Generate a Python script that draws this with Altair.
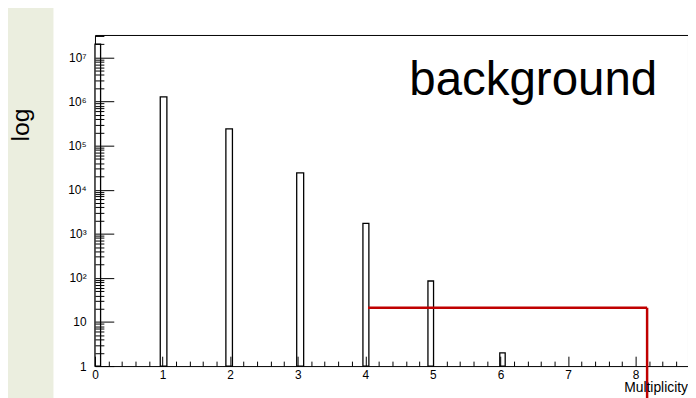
import altair as alt
import pandas as pd

# ---- data ----
bin_left = [0.0, 0.966, 1.937, 2.985, 3.965, 4.927, 5.99]
bin_right = [0.083, 1.064, 2.034, 3.088, 4.053, 5.01, 6.07]
counts = [2.0e7, 1.27e6, 2.4e5, 2.4e4, 1.73e3, 85, 2.0]

x_major = [0, 1, 2, 3, 4, 5, 6, 7, 8]
x_labels = ["0", "1", "2", "3", "4", "5", "6", "7", "8"]
y_major = [1, 10, 100, 1000, 10000, 100000, 1000000, 10000000]
y_labels = ["1", "10", "10²", "10³", "10⁴", "10⁵", "10⁶", "10⁷"]

cut_x = [4.04, 8.17]
cut_y = [21]

W, H = 600, 335
X_MAX = W / 68.375
Y_MAX = 3.23e7

x_minor = [round(i * 0.2, 1) for i in range(0, int(X_MAX / 0.2) + 1)]
y_minor = [k * 10 ** d for d in range(0, 8) for k in range(1, 10) if k * 10 ** d <= Y_MAX]

bars = pd.DataFrame({"left": bin_left, "right": bin_right, "count": counts})
cut = pd.DataFrame({"x1": [cut_x[0]], "x2": [cut_x[1]], "y": cut_y})
one = pd.DataFrame({"a": [0]})

xs = alt.Scale(domain=[0, X_MAX], nice=False, zero=False)
ys = alt.Scale(type="log", domain=[1, Y_MAX], nice=False)

FONT = "Liberation Sans"


def expr_map(vals, labels):
    parts = []
    for v, l in zip(vals, labels):
        parts.append(f"datum.value == {v} ? '{l}' : ")
    return "".join(parts) + "''"


x_label_axis = alt.Axis(orient="bottom", values=x_major, labelExpr=expr_map(x_major, x_labels),
                        ticks=False, tickSize=0, domain=False, grid=False, labelFont=FONT,
                        labelFontSize=12, labelColor="black", labelPadding=4, labelFlush=False,
                        labelOverlap=False, title=None, zindex=1)
y_label_axis = alt.Axis(orient="left", values=y_major, labelExpr=expr_map(y_major, y_labels),
                        ticks=False, tickSize=0, domain=False, grid=False, labelFont=FONT,
                        labelFontSize=12, labelColor="black", labelPadding=9, labelFlush=False,
                        labelOverlap=False, title=None, zindex=1)
x_tick_axis = alt.Axis(orient="top", offset=-H, values=x_minor, labels=False, domain=False,
                       grid=False, tickColor="black", tickWidth=1,
                       tickSize={"condition": {"test": "abs(datum.value - round(datum.value)) < 0.001",
                                               "value": 10}, "value": 5},
                       title=None, zindex=1)
y_tick_axis = alt.Axis(orient="right", offset=-W, values=y_minor, labels=False, domain=False,
                       grid=False, tickColor="black", tickWidth=1,
                       tickSize={"condition": {"test": "abs(log(datum.value)/LN10 - round(log(datum.value)/LN10)) < 0.001",
                                               "value": 19}, "value": 9},
                       title=None, zindex=1)

beige = alt.Chart(one).mark_rect(color="#ebeedf", clip=False).encode(
    x=alt.value(-90), x2=alt.value(-42), y=alt.value(-30), y2=alt.value(H + 40))

hist = alt.Chart(bars).mark_rect(fill="white", stroke="black", strokeWidth=1.3).encode(
    x=alt.X("left:Q", scale=xs, axis=x_label_axis),
    x2="right:Q",
    y=alt.Y("count:Q", scale=ys, axis=y_label_axis),
    y2=alt.Y2Datum(1),
)

cut_h = alt.Chart(cut).mark_rule(color="#c00000", strokeWidth=2.5).encode(
    x=alt.X("x1:Q", scale=xs, axis=x_tick_axis),
    x2="x2:Q",
    y=alt.Y("y:Q", scale=ys, axis=y_tick_axis),
)

cut_v = alt.Chart(cut).mark_rule(color="#c00000", strokeWidth=2.5, clip=False).encode(
    x=alt.X("x2:Q", scale=xs, axis=None),
    y=alt.Y("y:Q", scale=ys, axis=None),
    y2=alt.value(H + 40),
)

bg_text = alt.Chart(one).mark_text(text="background", font=FONT, fontSize=48, align="left",
                                   baseline="alphabetic", color="black").encode(
    x=alt.value(318), y=alt.value(61))

log_text = alt.Chart(one).mark_text(text="log", font=FONT, fontSize=25, angle=270, align="center",
                                    baseline="middle", color="black").encode(
    x=alt.value(-75), y=alt.value(91))

mult_text = alt.Chart(one).mark_text(text="Multiplicity", font=FONT, fontSize=14, align="right",
                                     baseline="alphabetic", color="black").encode(
    x=alt.value(W), y=alt.value(361))

chart = alt.layer(beige, hist, cut_h, cut_v, bg_text, log_text, mult_text).resolve_axis(
    x="independent", y="independent"
).properties(
    width=W, height=H,
    autosize=alt.AutoSizeParams(type="none"),
    padding={"left": 88, "top": 25, "right": 0, "bottom": 30},
    background="white",
).configure_view(stroke="black", strokeWidth=1, fill=None)

chart.save("out.html", embed_options={"renderer": "svg", "actions": False})
